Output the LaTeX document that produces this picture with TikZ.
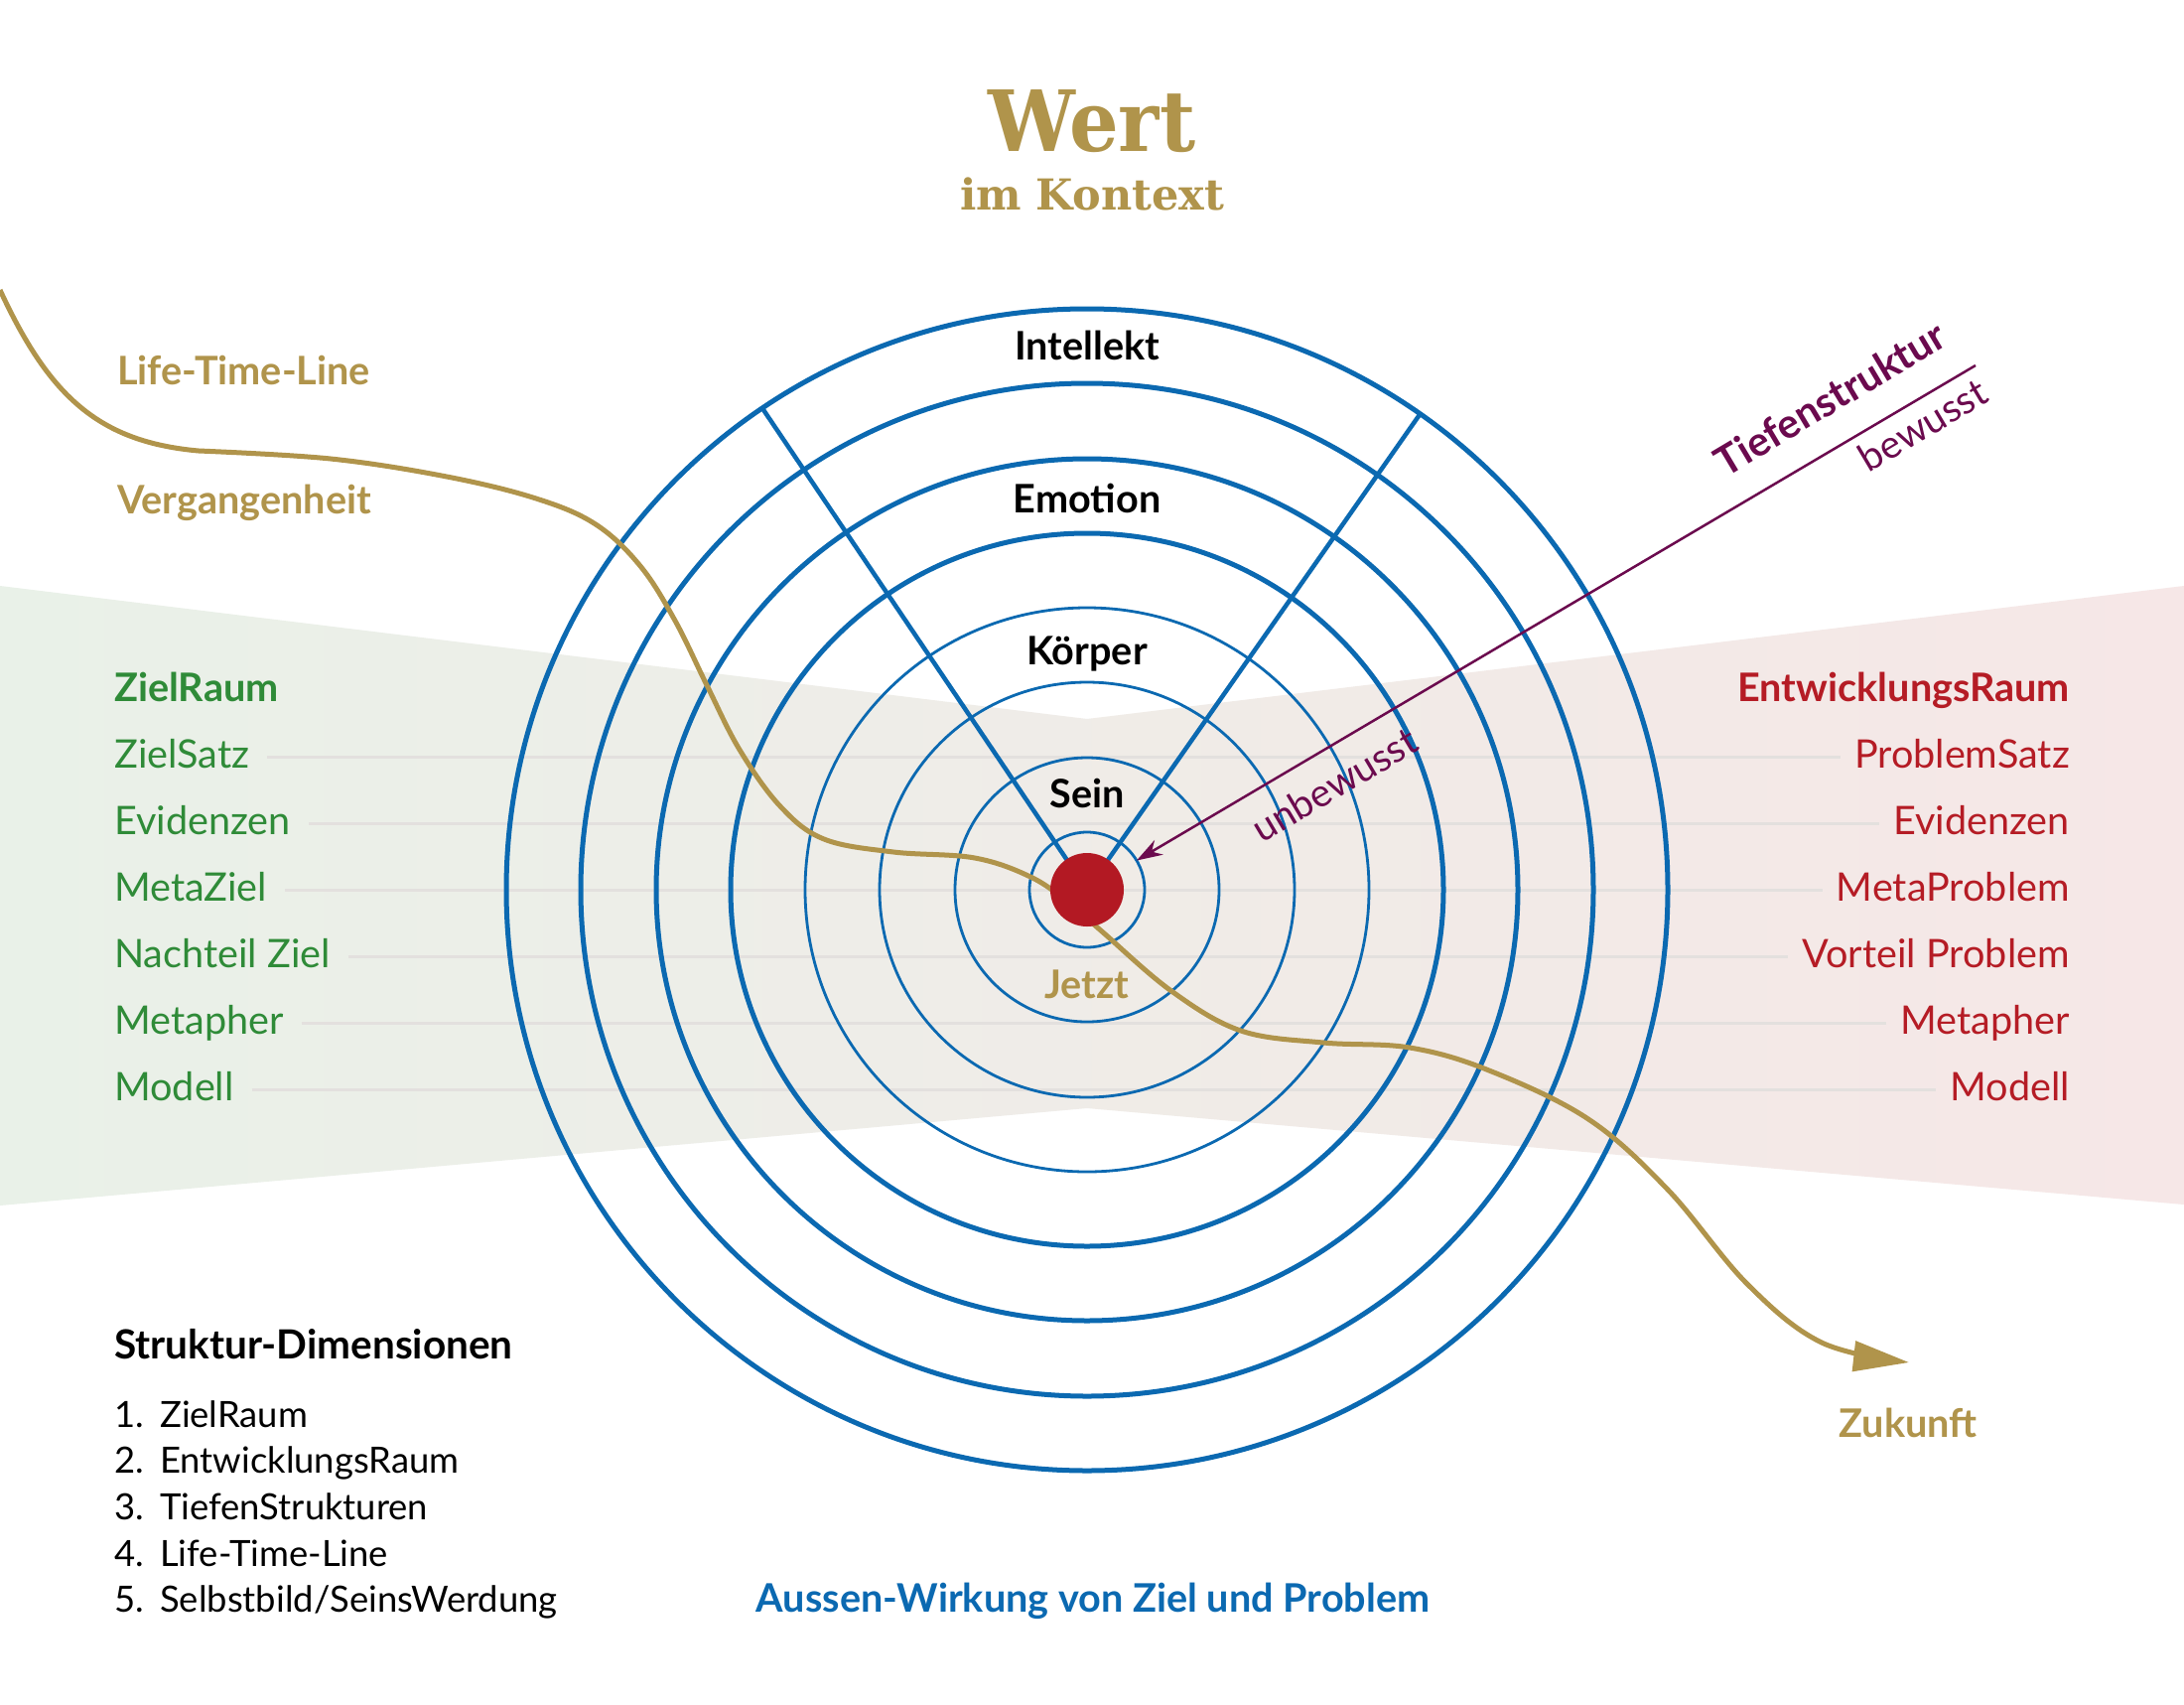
\documentclass[tikz,border=0pt]{standalone}
\usepackage{fontspec}
\setmainfont{Lato}
\newfontfamily\titlefont{DejaVu Serif}
\usetikzlibrary{arrows.meta,calc}
\definecolor{cblue}{HTML}{0B69B1}
\definecolor{cgold}{HTML}{B0944B}
\definecolor{cgreen}{HTML}{2F8B38}
\definecolor{cred}{HTML}{B51C25}
\definecolor{cpurple}{HTML}{6B0A4E}
\definecolor{cgreenbg}{HTML}{E9F1E8}
\definecolor{cpinkbg}{HTML}{F6E7E7}
\definecolor{cgray}{HTML}{E3E0DE}
\definecolor{cdot}{HTML}{B31923}
\begin{document}
\begin{tikzpicture}[x=1pt,y=-1pt,
  txt/.style={inner sep=0pt, font=\fontsize{39.6}{47}\selectfont},
  txtb/.style={inner sep=0pt, font=\fontsize{39.6}{47}\selectfont\bfseries},
  leftlbl/.style={txt, text=cgreen, anchor=base west},
  rightlbl/.style={txt, text=cred, anchor=base east},
  ringlbl/.style={txtb, text=black, anchor=base},
  goldlbl/.style={txtb, text=cgold},
  purplbl/.style={inner sep=0pt, font=\fontsize{39}{46}\selectfont, text=cpurple, rotate=30.8},
  listlbl/.style={inner sep=0pt, font=\fontsize{36.4}{44}\selectfont, anchor=base west},
  grayline/.style={draw=cgray, line width=2.2pt},
  ring/.style={circle, draw=cblue, inner sep=0pt, outer sep=0pt},
  spoke/.style={draw=cblue, line width=4.5pt},
  lifeline/.style={draw=cgold, line width=5pt},
]
\fill[white] (0,0) rectangle (2200,1716);
\useasboundingbox (0,0) rectangle (2200,1716);

% background bow-tie
\begin{scope}
  \clip (0,590) -- (1095,724) -- (2200,590) -- (2200,1213) -- (1095,1116) -- (0,1214) -- cycle;
  \shade[left color=cgreenbg, right color=cpinkbg] (-5,580) rectangle (2205,1225);
\end{scope}

% title
\node[inner sep=0pt, text=cgold, anchor=base, xscale=0.92,
      font=\titlefont\bfseries\fontsize{85}{90}\selectfont] (wert) at (1100,152) {Wert};
\node[inner sep=0pt, text=cgold, anchor=base,
      font=\titlefont\bfseries\fontsize{43}{50}\selectfont] (kontext) at (1100,211) {im Kontext};

% left / right labels
\node[txtb, text=cgreen, anchor=base west] (l1) at (115,706) {ZielRaum};
\node[leftlbl] (l2) at (115,773) {ZielSatz};
\node[leftlbl] (l3) at (115,840) {Evidenzen};
\node[leftlbl] (l4) at (115,907) {MetaZiel};
\node[leftlbl] (l5) at (115,974) {Nachteil Ziel};
\node[leftlbl] (l6) at (115,1041) {Metapher};
\node[leftlbl] (l7) at (115,1108) {Modell};

\node[txtb, text=cred, anchor=base east] (r1) at (2085,706) {EntwicklungsRaum};
\node[rightlbl] (r2) at (2085,773) {ProblemSatz};
\node[rightlbl] (r3) at (2085,840) {Evidenzen};
\node[rightlbl] (r4) at (2085,907) {MetaProblem};
\node[rightlbl] (r5) at (2085,974) {Vorteil Problem};
\node[rightlbl] (r6) at (2085,1041) {Metapher};
\node[rightlbl] (r7) at (2085,1108) {Modell};

\foreach \i in {2,...,7}
  \draw[grayline] ([xshift=18pt,yshift=10.5pt]l\i.base east) -- ([xshift=-14pt,yshift=10.5pt]r\i.base west);

% rings
\coordinate (cen) at (1095,896);
\foreach \r/\w/\n in {58/2.8/c1,133/2.8/c2,209/2.8/c3,284/2.8/c4,359/5/c5,434/5/c6,510/5/c7,585/5/c8}
  \node[ring, line width=\w pt, minimum size={2*\r pt}] (\n) at (cen) {};

% spokes
\draw[spoke] (cen) -- (c8.124.2);
\draw[spoke] (cen) -- (c8.55.8);

% ring labels
\node[ringlbl] (intel) at (1095,362) {Intellekt};
\node[ringlbl] (emo) at (1095,516) {Emotion};
\node[ringlbl] (koer) at (1095,669) {Körper};
\node[ringlbl] (sein) at (1095,813) {Sein};

% Tiefenstruktur
\coordinate (tsend) at (1990,368);
\draw[draw=cpurple, line width=2.5pt, -{Stealth[length=26pt,width=17pt]}] (tsend) -- (c1);
\node[purplbl, font=\fontsize{41}{48}\selectfont\bfseries, anchor=base] (tief) at (1851,414) {Tiefenstruktur};
\node[purplbl, anchor=base] (bew) at (1944,440) {bewusst};
\node[purplbl, anchor=center] (unbew) at (1344,790) {unbewusst};

% life time line
\coordinate (past) at (0,292);
\coordinate (fut) at (1923,1372);
\draw[lifeline, -{Triangle[length=56pt,width=30pt]}]
  (past) .. controls (50,400) and (100,445) .. (200,454)
  -- plot[smooth, tension=0.6] coordinates {
  (200,454) (333,462) (450,480) (540,502) (600,528)
  (645,570) (680,625) (712,690) (745,755) (786,812) (830,845) (900,858) (982,864)
  (1040,884) (1080,912) (1110,938) (1180,998) (1250,1038) (1333,1050) (1420,1055)
  (1500,1078) (1600,1127) (1680,1198) (1760,1293) (1835,1352) (1923,1372)};

% centre dot
\node[circle, fill=cdot, minimum size=74pt, inner sep=0pt] (dot) at (cen) {};

\node[goldlbl, anchor=base] (jetzt) at (1095,1005) {Jetzt};
\node[goldlbl, anchor=base west] (ltl) at (118,387) {Life-Time-Line};
\node[goldlbl, anchor=base west] (verg) at (118,517) {Vergangenheit};
\node[goldlbl, anchor=base] (zuk) at (1922,1447) {Zukunft};

% legend
\node[inner sep=0pt, font=\fontsize{40.5}{48}\selectfont\bfseries, text=black, anchor=base west] (sd) at (115,1368) {Struktur-Dimensionen};
\node[listlbl] (n1) at (115,1437) {1.};
\node[listlbl] (n2) at (115,1483) {2.};
\node[listlbl] (n3) at (115,1530) {3.};
\node[listlbl] (n4) at (115,1577) {4.};
\node[listlbl] (n5) at (115,1623) {5.};
\node[listlbl] (t1) at (161,1437) {ZielRaum};
\node[listlbl] (t2) at (161,1483) {EntwicklungsRaum};
\node[listlbl] (t3) at (161,1530) {TiefenStrukturen};
\node[listlbl] (t4) at (161,1577) {Life-Time-Line};
\node[listlbl] (t5) at (161,1623) {Selbstbild/SeinsWerdung};

\node[txtb, text=cblue, anchor=base] (aw) at (1101,1623) {Aussen-Wirkung von Ziel und Problem};
\end{tikzpicture}
\end{document}
